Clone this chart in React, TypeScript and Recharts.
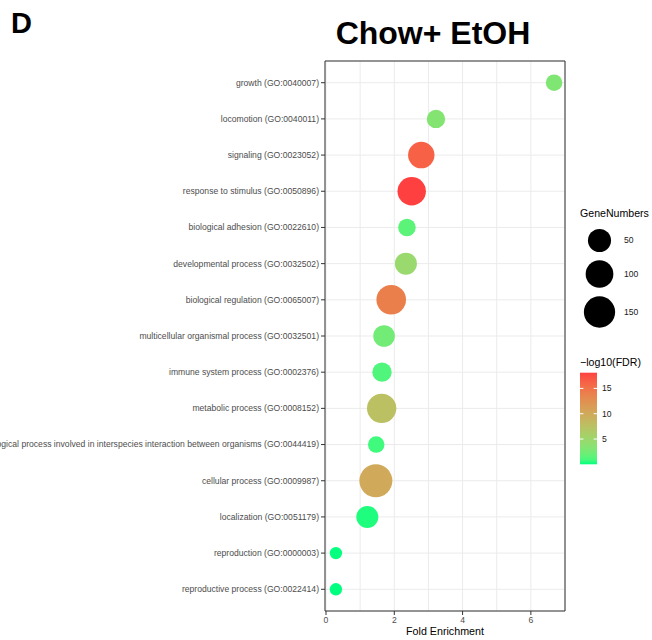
import React from "react";
import { ScatterChart, Scatter, XAxis, YAxis, CartesianGrid, ReferenceArea } from "recharts";

const terms = [
  "growth (GO:0040007)",
  "locomotion (GO:0040011)",
  "signaling (GO:0023052)",
  "response to stimulus (GO:0050896)",
  "biological adhesion (GO:0022610)",
  "developmental process (GO:0032502)",
  "biological regulation (GO:0065007)",
  "multicellular organismal process (GO:0032501)",
  "immune system process (GO:0002376)",
  "metabolic process (GO:0008152)",
  "biological process involved in interspecies interaction between organisms (GO:0044419)",
  "cellular process (GO:0009987)",
  "localization (GO:0051179)",
  "reproduction (GO:0000003)",
  "reproductive process (GO:0022414)",
];
const foldEnrichment = [6.68, 3.22, 2.79, 2.51, 2.37, 2.34, 1.91, 1.7, 1.64, 1.63, 1.47, 1.46, 1.21, 0.29, 0.29];
const geneNumbers = [10, 18, 84, 109, 14, 41, 125, 38, 23, 122, 10, 178, 41, 3, 3];
const negLog10FDR = [3.1, 3.3, 16.3, 18.1, 1.5, 4.7, 14.0, 2.4, 1.1, 7.6, 0.7, 10.0, 0.2, 0.03, 0.01];

const xTicks = [0, 1, 2, 3, 4, 5, 6, 7];
const sizeBreaks = [50, 100, 150];
const colorBreaks = [5, 10, 15];

const points = terms.map((term, i) => ({
  term,
  rank: i + 1,
  fold: foldEnrichment[i],
  genes: geneNumbers[i],
  fdr: negLog10FDR[i],
}));

// ggplot-style 5% expansion on the continuous axis
const foldMin = Math.min(...foldEnrichment);
const foldMax = Math.max(...foldEnrichment);
const foldPad = (foldMax - foldMin) * 0.05;
const xDomain = [foldMin - foldPad, foldMax + foldPad];
const yDomain = [0.4, terms.length + 0.6];
const yTicks = terms.map((_, i) => i + 1);

// size scale: radius grows with sqrt of rescaled count
const geneMin = Math.min(...geneNumbers);
const geneMax = Math.max(...geneNumbers);
const R_MIN = 6.2;
const R_MAX = 16.5;
const geneRadius = (n: number) =>
  R_MIN + (R_MAX - R_MIN) * Math.sqrt(Math.max(0, n - geneMin) / (geneMax - geneMin));

// colour scale: springgreen -> brown1, interpolated in CIELAB
const fdrMin = Math.min(...negLog10FDR);
const fdrMax = Math.max(...negLog10FDR);
const WHITE = [0.95047, 1, 1.08883];
const toLinear = (c: number) => {
  const v = c / 255;
  return v <= 0.04045 ? v / 12.92 : Math.pow((v + 0.055) / 1.055, 2.4);
};
const fromLinear = (c: number) => {
  const v = c <= 0.0031308 ? 12.92 * c : 1.055 * Math.pow(c, 1 / 2.4) - 0.055;
  return Math.round(Math.max(0, Math.min(1, v)) * 255);
};
const labF = (t: number) => (t > 216 / 24389 ? Math.cbrt(t) : t / (3 * (6 / 29) ** 2) + 4 / 29);
const labFInv = (t: number) => (t > 6 / 29 ? t * t * t : 3 * (6 / 29) ** 2 * (t - 4 / 29));

const hexToLab = (hex: string) => {
  const r = toLinear(parseInt(hex.slice(1, 3), 16));
  const g = toLinear(parseInt(hex.slice(3, 5), 16));
  const b = toLinear(parseInt(hex.slice(5, 7), 16));
  const X = (0.4124 * r + 0.3576 * g + 0.1805 * b) / WHITE[0];
  const Y = (0.2126 * r + 0.7152 * g + 0.0722 * b) / WHITE[1];
  const Z = (0.0193 * r + 0.1192 * g + 0.9505 * b) / WHITE[2];
  return [116 * labF(Y) - 16, 500 * (labF(X) - labF(Y)), 200 * (labF(Y) - labF(Z))];
};
const labToHex = (L: number, a: number, bb: number) => {
  const fy = (L + 16) / 116;
  const X = labFInv(fy + a / 500) * WHITE[0];
  const Y = labFInv(fy) * WHITE[1];
  const Z = labFInv(fy - bb / 200) * WHITE[2];
  const r = fromLinear(3.2406 * X - 1.5372 * Y - 0.4986 * Z);
  const g = fromLinear(-0.9689 * X + 1.8758 * Y + 0.0415 * Z);
  const b = fromLinear(0.0557 * X - 0.204 * Y + 1.057 * Z);
  return "#" + [r, g, b].map((v) => v.toString(16).padStart(2, "0")).join("");
};
const LOW = hexToLab("#00FF7F");
const HIGH = hexToLab("#FF4040");
const fdrColor = (v: number) => {
  const t = Math.max(0, Math.min(1, (v - fdrMin) / (fdrMax - fdrMin)));
  return labToHex(LOW[0] + (HIGH[0] - LOW[0]) * t, LOW[1] + (HIGH[1] - LOW[1]) * t, LOW[2] + (HIGH[2] - LOW[2]) * t);
};

const FONT = '"Liberation Sans", Arial, Helvetica, sans-serif';

const Bubble = (props: any) => {
  const { cx, cy, payload } = props;
  if (cx == null || cy == null) return <g />;
  return <circle cx={cx} cy={cy} r={geneRadius(payload.genes)} fill={fdrColor(payload.fdr)} />;
};

const TermTick = (props: any) => {
  const { x, y, payload } = props;
  return (
    <text x={x} y={y} dy="0.34em" textAnchor="end" fontSize={8.6} fill="#4D4D4D">
      {terms[payload.value - 1]}
    </text>
  );
};

// only even values get a label and tick mark; odd ones are minor grid lines
const FoldTick = (props: any) => {
  const { x, y, payload } = props;
  if (payload.value % 2 !== 0) return <g />;
  return (
    <g>
      <line x1={x} x2={x} y1={y - 4} y2={y} stroke="#333333" />
      <text x={x} y={y} dy="0.9em" textAnchor="middle" fontSize={8.6} fill="#4D4D4D">
        {payload.value}
      </text>
    </g>
  );
};

// colour bar geometry
const BAR_X = 580;
const BAR_W = 17;
const BAR_TOP = 372.7;
const BAR_H = 91.6;
const barY = (v: number) => BAR_TOP + BAR_H - ((v - fdrMin) / (fdrMax - fdrMin)) * BAR_H;
const sizeKeyY = [240.5, 274, 312];

const Legends = () => (
  <svg width={652} height={640} style={{ position: "absolute", left: 0, top: 0, pointerEvents: "none", fontFamily: FONT }}>
    <defs>
      <linearGradient id="fdrGradient" x1="0" y1="1" x2="0" y2="0">
        {Array.from({ length: 21 }, (_, i) => (
          <stop key={i} offset={`${i * 5}%`} stopColor={fdrColor(fdrMin + ((fdrMax - fdrMin) * i) / 20)} />
        ))}
      </linearGradient>
    </defs>
    <text x={11} y={33} fontSize={29} fontWeight="bold" fill="#000">D</text>
    <text x={433} y={44} fontSize={32} fontWeight="bold" fill="#000" textAnchor="middle">Chow+ EtOH</text>

    <text x={580} y={217} fontSize={10.6} fill="#000">GeneNumbers</text>
    {sizeBreaks.map((n, i) => (
      <g key={n}>
        <circle cx={599.5} cy={sizeKeyY[i]} r={geneRadius(n)} fill="#000" />
        <text x={624} y={sizeKeyY[i]} dy="0.34em" fontSize={8.6} fill="#1A1A1A">{n}</text>
      </g>
    ))}

    <text x={580} y={366} fontSize={10.6} fill="#000">−log10(FDR)</text>
    <rect x={BAR_X} y={BAR_TOP} width={BAR_W} height={BAR_H} fill="url(#fdrGradient)" />
    {colorBreaks.map((v) => (
      <g key={v}>
        <line x1={BAR_X} x2={BAR_X + BAR_W / 5} y1={barY(v)} y2={barY(v)} stroke="#fff" strokeWidth={1} />
        <line x1={BAR_X + BAR_W * 0.8} x2={BAR_X + BAR_W} y1={barY(v)} y2={barY(v)} stroke="#fff" strokeWidth={1} />
        <text x={602} y={barY(v)} dy="0.34em" fontSize={8.6} fill="#1A1A1A">{v}</text>
      </g>
    ))}
  </svg>
);

const App = () => {
  return (
    <div style={{ position: "absolute", left: 0, top: 0, width: 652, height: 640, background: "#fff", fontFamily: FONT }}>
      <ScatterChart width={652} height={640} margin={{ top: 61, right: 87, bottom: 2, left: 5 }}>
        <CartesianGrid stroke="#EBEBEB" strokeWidth={1} />
        <XAxis
          type="number"
          dataKey="fold"
          domain={xDomain}
          ticks={xTicks}
          interval={0}
          allowDataOverflow
          height={27}
          tickSize={4}
          tickMargin={0}
          tickLine={false}
          axisLine={false}
          tick={<FoldTick />}
          label={{ value: "Fold Enrichment", position: "insideBottom", offset: 3, fill: "#000", fontSize: 10.7 }}
        />
        <YAxis
          type="number"
          dataKey="rank"
          domain={yDomain}
          ticks={yTicks}
          interval={0}
          reversed
          allowDataOverflow
          width={320}
          tickSize={4}
          tickMargin={2}
          tickLine={{ stroke: "#333333" }}
          axisLine={false}
          tick={<TermTick />}
        />
        <ReferenceArea
          x1={xDomain[0]}
          x2={xDomain[1]}
          y1={yDomain[0]}
          y2={yDomain[1]}
          fill="none"
          fillOpacity={0}
          stroke="#333333"
          strokeWidth={1}
        />
        <Scatter data={points} shape={<Bubble />} isAnimationActive={false} />
      </ScatterChart>
      <Legends />
    </div>
  );
};

export default App;
